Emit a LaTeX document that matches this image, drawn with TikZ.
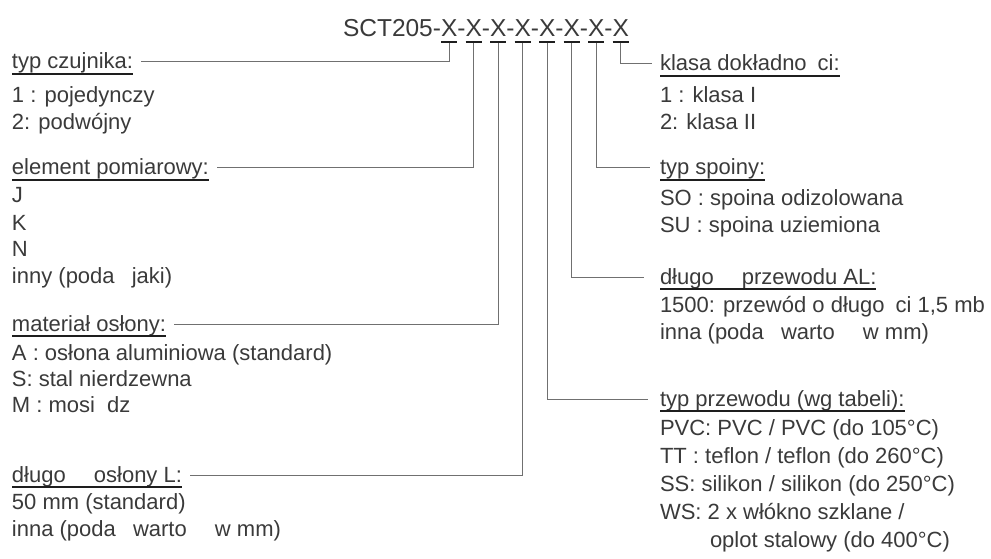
\documentclass[tikz,border=0pt]{standalone}
\usepackage{fontspec}
\setmainfont{Liberation Sans}
\definecolor{txt}{HTML}{3A3A3A}
\definecolor{ln}{HTML}{707070}
\definecolor{ul}{HTML}{1E1E1E}
\begin{document}
\begin{tikzpicture}[x=1pt,y=-1pt,
  font=\fontsize{22}{25}\selectfont,
  every node/.style={inner sep=0pt, outer sep=0pt, text=txt},
  lbl/.style={anchor=base west},
  hx/.style={anchor=base west, font=\fontsize{24.5}{28}\selectfont},
  conn/.style={draw=ln, line width=1pt},
  uline/.style={draw=ul, line width=1.5pt},
  xline/.style={draw=ul, line width=2pt}]
\useasboundingbox (0,0) rectangle (991,559);
% header
\node[hx] (sct) at (343,37) {SCT205-};
\node[hx] (x1) at (sct.base east) {X};
\node[hx] (d1) at (x1.base east) {-};
\node[hx] (x2) at (d1.base east) {X};
\node[hx] (d2) at (x2.base east) {-};
\node[hx] (x3) at (d2.base east) {X};
\node[hx] (d3) at (x3.base east) {-};
\node[hx] (x4) at (d3.base east) {X};
\node[hx] (d4) at (x4.base east) {-};
\node[hx] (x5) at (d4.base east) {X};
\node[hx] (d5) at (x5.base east) {-};
\node[hx] (x6) at (d5.base east) {X};
\node[hx] (d6) at (x6.base east) {-};
\node[hx] (x7) at (d6.base east) {X};
\node[hx] (d7) at (x7.base east) {-};
\node[hx] (x8) at (d7.base east) {X};
\foreach \i in {1,...,8}{
  \draw[xline] ([yshift=-5pt]x\i.base west) -- ([yshift=-5pt]x\i.base east);
}
% left column
\node[lbl] (h1) at (12,69) {typ czujnika:};
\node[lbl] (a1) at (12,103) {1 : pojedynczy};
\node[lbl] (a2) at (12,130) {2: podwójny};
\node[lbl] (h2) at (12,175) {element pomiarowy:};
\node[lbl] (b1) at (12,203) {J};
\node[lbl] (b2) at (12,230) {K};
\node[lbl] (b3) at (12,256) {N};
\node[lbl] (b4) at (12,283) {inny (poda\hspace{0.5em} jaki)};
\node[lbl] (h3) at (12,331) {materiał osłony:};
\node[lbl] (c1) at (12,360) {A : osłona aluminiowa (standard)};
\node[lbl] (c2) at (12,386) {S: stal nierdzewna};
\node[lbl] (c3) at (12,412) {M : mosi\hspace{0.55em}dz};
\node[lbl] (h4) at (12,482) {długo\hspace{1em} osłony L:};
\node[lbl] (e1) at (12,509) {50 mm (standard)};
\node[lbl] (e2) at (12,536) {inna (poda\hspace{0.5em} warto\hspace{1em} w mm)};
% right column
\node[lbl] (h5) at (660,71) {klasa dokładno\hspace{0.5em}ci:};
\node[lbl] (f1) at (660,103) {1 : klasa I};
\node[lbl] (f2) at (660,130) {2: klasa II};
\node[lbl] (h6) at (660,175) {typ spoiny:};
\node[lbl] (g1) at (660,205) {SO : spoina odizolowana};
\node[lbl] (g2) at (660,232) {SU : spoina uziemiona};
\node[lbl] (h7) at (660,284) {długo\hspace{1em} przewodu AL:};
\node[lbl] (k1) at (660,312) {1500: przewód o długo\hspace{0.5em}ci 1,5 mb};
\node[lbl] (k2) at (660,339) {inna (poda\hspace{0.5em} warto\hspace{1em} w mm)};
\node[lbl] (h8) at (660,406) {typ przewodu (wg tabeli):};
\node[lbl] (m1) at (660,435) {PVC: PVC / PVC (do 105°C)};
\node[lbl] (m2) at (660,463) {TT : teflon / teflon (do 260°C)};
\node[lbl] (m3) at (660,491) {SS: silikon / silikon (do 250°C)};
\node[lbl] (m4) at (660,519) {WS: 2 x włókno szklane /};
\node[lbl] (m5) at (710,547) {oplot stalowy (do 400°C)};
% heading underlines
\foreach \h in {h1,h2,h3,h4,h5,h6,h7,h8}{
  \draw[uline] ([yshift=-5pt]\h.base west) -- ([yshift=-5pt]\h.base east);
}
% connectors
\draw[conn] ([yshift=-6pt]x1.base) |- ([xshift=8pt,yshift=7pt]h1.base east);
\draw[conn] ([yshift=-6pt]x2.base) |- ([xshift=8pt,yshift=7pt]h2.base east);
\draw[conn] ([yshift=-6pt]x3.base) |- ([xshift=8pt,yshift=7pt]h3.base east);
\draw[conn] ([yshift=-6pt]x4.base) |- ([xshift=8pt,yshift=7pt]h4.base east);
\draw[conn] ([yshift=-6pt]x5.base) |- ([xshift=-12pt,yshift=7pt]h8.base west);
\draw[conn] ([yshift=-6pt]x6.base) |- ([xshift=-16pt,yshift=7pt]h7.base west);
\draw[conn] ([yshift=-6pt]x7.base) |- ([xshift=-10pt,yshift=7pt]h6.base west);
\draw[conn] ([yshift=-6pt]x8.base) |- ([xshift=-8pt,yshift=7pt]h5.base west);
\end{tikzpicture}
\end{document}
